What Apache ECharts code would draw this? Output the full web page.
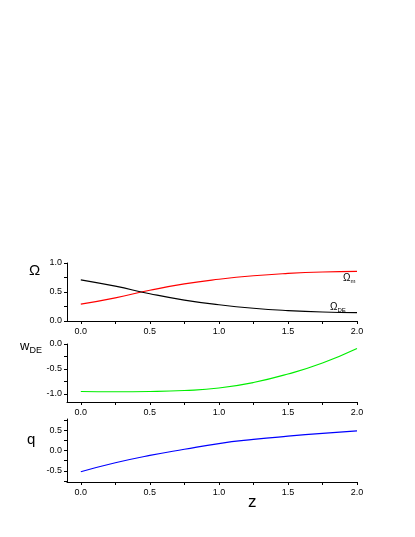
<!DOCTYPE html>
<html><head><meta charset="utf-8">
<script src="https://cdn.jsdelivr.net/npm/echarts@6/dist/echarts.min.js"></script>
<style>html,body{margin:0;background:#fff}#c{width:415px;height:537px}</style>
</head><body><div id="c"></div>
<script>
var zs = [0, 0.25, 0.5, 0.75, 1.0, 1.25, 1.5, 1.75, 2.0];
var omegaM = [0.29, 0.40, 0.53, 0.64, 0.72, 0.78, 0.82, 0.845, 0.855];
var omegaDE = [0.71, 0.60, 0.47, 0.36, 0.28, 0.22, 0.18, 0.155, 0.145];
var wDE = [-0.95, -0.955, -0.95, -0.93, -0.88, -0.77, -0.60, -0.38, -0.09];
var qVals = [-0.52, -0.30, -0.12, 0.03, 0.17, 0.27, 0.35, 0.42, 0.48];
var xLabels = [0, 0.5, 1.0, 1.5, 2.0];
var xTicks = [0, 0.25, 0.5, 0.75, 1.0, 1.25, 1.5, 1.75, 2.0];

function pairs(ys) { return zs.map(function (z, i) { return [z, ys[i]]; }); }
var font = 'Liberation Sans, Arial, sans-serif';
var axisLine = { show: true, onZero: false, lineStyle: { color: '#000', width: 1 } };

function xAxis(idx) {
    return {
        type: 'value', gridIndex: idx, min: -0.1, max: 2.0,
        axisLine: axisLine, splitLine: { show: false },
        axisTick: { customValues: xTicks, length: 3, lineStyle: { color: '#000' } },
        axisLabel: { customValues: xLabels, fontSize: 9, color: '#000', fontFamily: font, margin: 6,
            formatter: function (v) { return v.toFixed(1); } }
    };
}
function yAxis(idx, min, max, labels, ticks) {
    return {
        type: 'value', gridIndex: idx, min: min, max: max,
        axisLine: axisLine, splitLine: { show: false },
        axisTick: { customValues: ticks, length: 3, lineStyle: { color: '#000' } },
        axisLabel: { customValues: labels, fontSize: 9, color: '#000', fontFamily: font, margin: 5,
            formatter: function (v) { return v.toFixed(1); } }
    };
}
function line(x, ys, color) {
    return { type: 'line', xAxisIndex: x, yAxisIndex: x, data: pairs(ys), smooth: true,
        showSymbol: false, lineStyle: { color: color, width: 1.2 }, silent: true };
}

var chart = echarts.init(document.getElementById('c'));
chart.setOption({
    animation: false,
    grid: [
        { left: 67, right: 58, top: 263, height: 58 },
        { left: 67, right: 58, top: 344, height: 58 },
        { left: 67, right: 58, top: 419, height: 63 }
    ],
    xAxis: [xAxis(0), xAxis(1), xAxis(2)],
    yAxis: [
        yAxis(0, 0, 1, [0, 0.5, 1], [0, 0.25, 0.5, 0.75, 1]),
        yAxis(1, -1.16, 0, [-1, -0.5, 0], [-1, -0.75, -0.5, -0.25, 0]),
        yAxis(2, -0.77, 0.77, [-0.5, 0, 0.5], [-0.75, -0.5, -0.25, 0, 0.25, 0.5, 0.75])
    ],
    series: [
        line(0, omegaM, '#ff0000'),
        line(0, omegaDE, '#000000'),
        line(1, wDE, '#00ee00'),
        line(2, qVals, '#0000ff')
    ],
    graphic: [
        { type: 'text', left: 29, top: 263, style: { text: 'Ω', font: '15px ' + font, fill: '#000' } },
        { type: 'text', left: 343, top: 273, style: { rich: { a: { fontSize: 10, fontFamily: font }, s: { fontSize: 6, fontFamily: font, padding: [6, 0, 0, 0] } }, text: '{a|Ω}{s|m}' } },
        { type: 'text', left: 330, top: 302, style: { rich: { a: { fontSize: 10, fontFamily: font }, s: { fontSize: 6, fontFamily: font, padding: [6, 0, 0, 0] } }, text: '{a|Ω}{s|DE}' } },
        { type: 'text', left: 20, top: 340, style: { rich: { a: { fontSize: 13, fontFamily: font }, s: { fontSize: 9, fontFamily: font, padding: [8, 0, 0, 0] } }, text: '{a|w}{s|DE}' } },
        { type: 'text', left: 27, top: 432, style: { text: 'q', font: '15px ' + font, fill: '#000' } },
        { type: 'text', left: 248, top: 494, style: { text: 'z', font: '17px ' + font, fill: '#000' } }
    ]
});
</script></body></html>
